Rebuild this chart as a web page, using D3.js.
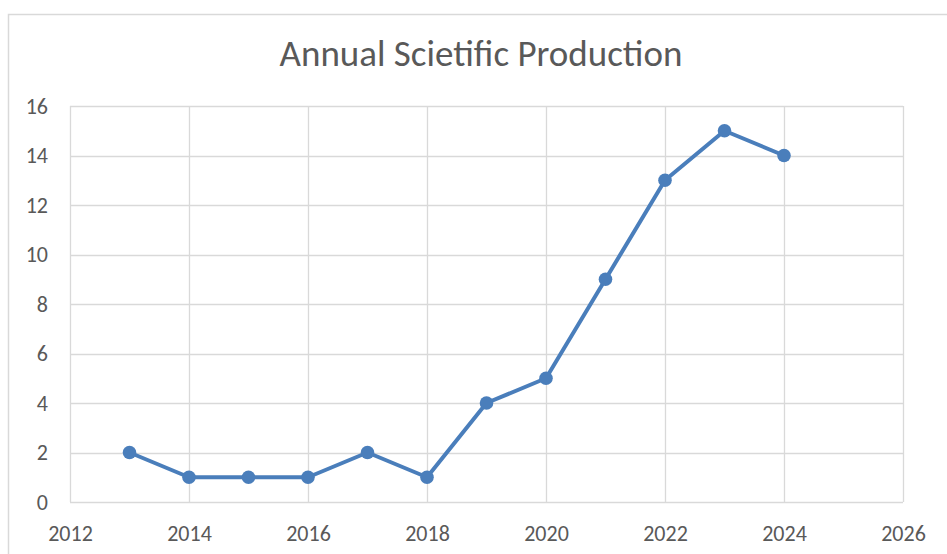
<!DOCTYPE html>
<html>
<head>
<meta charset="utf-8">
<script src="https://cdn.jsdelivr.net/npm/d3@7"></script>
<style>
  html, body { margin: 0; padding: 0; background: #fff; }
  svg { display: block; }
</style>
</head>
<body>
<svg id="chart" width="947" height="554"></svg>
<script>
// Publications per year
const years = [2013, 2014, 2015, 2016, 2017, 2018, 2019, 2020, 2021, 2022, 2023, 2024];
const counts = [2, 1, 1, 1, 2, 1, 4, 5, 9, 13, 15, 14];
const xTicks = [2012, 2014, 2016, 2018, 2020, 2022, 2024, 2026];
const yTicks = [0, 2, 4, 6, 8, 10, 12, 14, 16];
const title = "Annual Scietific Production";

const svg = d3.select("#chart");
const W = 947, H = 554;
const margin = { left: 70, right: 44, top: 106, bottom: 52 };
const font = "Carlito, 'Open Sans', 'Liberation Sans', sans-serif";
const textColor = "#595959";
const gridColor = "#d9d9d9";
const lineColor = "#4a7ebb";

// Chart frame
svg.append("rect")
  .attr("x", 8.5).attr("y", 14.5)
  .attr("width", W + 10).attr("height", H + 10)
  .attr("fill", "#fff").attr("stroke", gridColor).attr("stroke-width", 1.5);

const x = d3.scaleLinear().domain([2012, 2026]).range([margin.left, W - margin.right]);
const y = d3.scaleLinear().domain([0, 16]).range([H - margin.bottom, margin.top]);

// Grid
const grid = svg.append("g");
grid.selectAll("line.v").data(xTicks).join("line")
  .attr("x1", d => Math.round(x(d)) + 0.5).attr("x2", d => Math.round(x(d)) + 0.5)
  .attr("y1", y(0)).attr("y2", y(16))
  .attr("stroke", gridColor).attr("stroke-width", 1.3);
grid.selectAll("line.h").data(yTicks).join("line")
  .attr("y1", d => Math.round(y(d)) + 0.5).attr("y2", d => Math.round(y(d)) + 0.5)
  .attr("x1", x(2012)).attr("x2", x(2026))
  .attr("stroke", gridColor).attr("stroke-width", 1.3);

// Axes (labels only; gridlines carry the structure)
const xAxis = svg.append("g")
  .attr("transform", `translate(0,${y(0)})`)
  .call(d3.axisBottom(x).tickValues(xTicks).tickFormat(d3.format("d")).tickSize(0).tickPadding(31));
const yAxis = svg.append("g")
  .attr("transform", `translate(${x(2012)},0)`)
  .call(d3.axisLeft(y).tickValues(yTicks).tickSize(0).tickPadding(22));
[xAxis, yAxis].forEach(a => {
  a.select(".domain").remove();
  a.selectAll("text")
    .attr("fill", textColor)
    .style("font-family", font)
    .style("font-size", "22px");
});
xAxis.selectAll("text").attr("dy", "0.35em");

// Title
svg.append("text")
  .attr("x", 481).attr("y", 66)
  .attr("text-anchor", "middle")
  .attr("fill", textColor)
  .style("font-family", font)
  .style("font-size", "37px")
  .text(title);

// Series line and markers
const data = years.map((yr, i) => ({ yr, v: counts[i] }));
svg.append("path")
  .datum(data)
  .attr("fill", "none")
  .attr("stroke", lineColor)
  .attr("stroke-width", 4)
  .attr("stroke-linejoin", "round")
  .attr("d", d3.line().x(d => x(d.yr)).y(d => y(d.v)));
svg.selectAll("circle.pt").data(data).join("circle")
  .attr("class", "pt")
  .attr("cx", d => x(d.yr)).attr("cy", d => y(d.v))
  .attr("r", 6.8)
  .attr("fill", lineColor);
</script>
</body>
</html>
